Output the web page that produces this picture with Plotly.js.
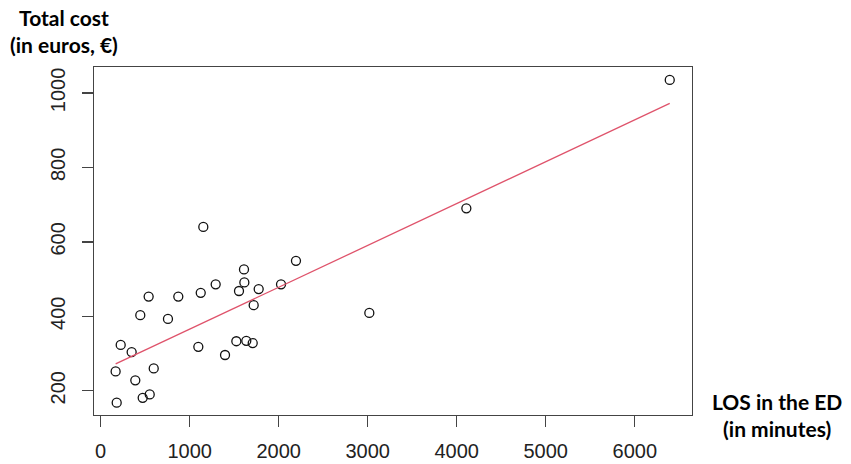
<!DOCTYPE html>
<html>
<head>
<meta charset="utf-8">
<script src="https://cdn.plot.ly/plotly-3.0.1.min.js"></script>
<style>
  body { margin: 0; background: #fff; }
  #myDiv { width: 851px; height: 464px; }
</style>
</head>
<body>
<div id="myDiv"></div>
<script>
// LOS in the ED (minutes) and total cost (euros) per patient
var los = [180, 168, 225, 348, 389, 472, 551, 596, 445, 539, 756, 872, 1097, 1124, 1153,
           1292, 1397, 1524, 1554, 1610, 1614, 1636, 1708, 1719, 1775, 2026, 2194, 3018, 4108, 6393];
var cost = [168, 252, 323, 304, 228, 181, 190, 260, 403, 453, 393, 453, 318, 463, 640,
            486, 296, 333, 468, 526, 491, 334, 328, 430, 473, 486, 549, 409, 690, 1035];

// fitted regression line, read at its two ends
var fitX = [168, 6393];
var fitY = [272, 972];

var xTicks = [0, 1000, 2000, 3000, 4000, 5000, 6000];
var yTicks = [200, 400, 600, 800, 1000];

var points = {
    x: los,
    y: cost,
    type: 'scatter',
    mode: 'markers',
    marker: {
        symbol: 'circle-open',
        size: 9,
        color: '#111',
        line: { width: 1.3, color: '#111' }
    },
    hoverinfo: 'x+y'
};

var fit = {
    x: fitX,
    y: fitY,
    type: 'scatter',
    mode: 'lines',
    line: { color: '#DF536B', width: 1.3 }
};

var tickFont = { family: 'Liberation Sans, Arial, sans-serif', size: 20, color: '#222' };
var titleFont = { family: 'Lato, Open Sans, sans-serif', size: 21, color: '#000', weight: 'bold' };

var layout = {
    width: 851,
    height: 464,
    showlegend: false,
    plot_bgcolor: '#fff',
    paper_bgcolor: '#fff',
    margin: { l: 94, r: 159, t: 67, b: 49 },
    xaxis: {
        range: [-75, 6643],
        tickvals: xTicks,
        ticktext: xTicks.map(String),
        ticks: 'outside',
        ticklen: 11,
        tickwidth: 1.3,
        tickcolor: '#444',
        tickfont: tickFont,
        ticklabelstandoff: 7,
        showgrid: false,
        zeroline: false,
        showline: true,
        mirror: true,
        linecolor: '#444',
        linewidth: 1.3
    },
    yaxis: {
        range: [134.8, 1069.8],
        tickvals: yTicks,
        ticktext: yTicks.map(String),
        tickangle: -90,
        ticks: 'outside',
        ticklen: 11,
        tickwidth: 1.3,
        tickcolor: '#444',
        tickfont: tickFont,
        ticklabelstandoff: 9,
        showgrid: false,
        zeroline: false,
        showline: true,
        mirror: true,
        linecolor: '#444',
        linewidth: 1.3
    },
    annotations: [
        {
            text: '<b>Total cost</b><br><b>(in euros, €)</b>',
            xref: 'paper', yref: 'paper',
            x: (64 - 94) / 598, y: (415 - 31) / 348,
            xanchor: 'center', yanchor: 'middle',
            showarrow: false,
            font: titleFont
        },
        {
            text: '<b>LOS in the ED</b><br><b>(in minutes)</b>',
            xref: 'paper', yref: 'paper',
            x: (777 - 94) / 598, y: (415 - 415) / 348,
            xanchor: 'center', yanchor: 'middle',
            showarrow: false,
            font: titleFont
        }
    ]
};

Plotly.newPlot('myDiv', [points, fit], layout, { displayModeBar: false, staticPlot: true });
</script>
</body>
</html>
